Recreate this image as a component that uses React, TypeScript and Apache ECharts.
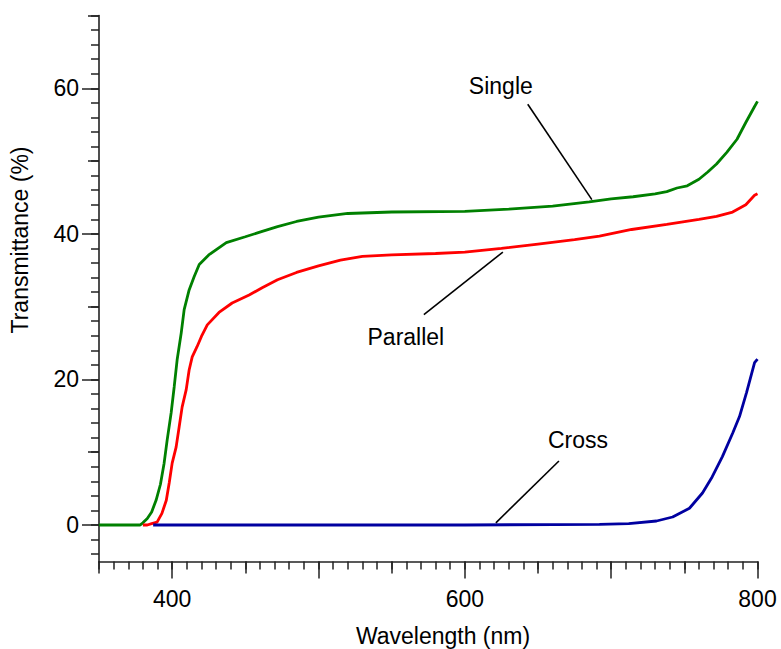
import React, { useEffect, useRef } from "react";
import * as echarts from "echarts";

// Wavelength (nm) / Transmittance (%) for each curve
const singleX = [350, 370, 378, 380, 383, 386, 389, 392, 394.5, 396.6, 399.3, 401.4, 403.4, 406.2, 408.2, 411.6, 415, 418.5, 425, 437, 450, 461, 472, 485, 500, 520, 550, 600, 630, 660, 685, 700, 715, 730, 738, 745, 752, 760, 766, 772, 779, 786, 792, 798, 800];
const singleY = [0, 0, 0, 0.3, 0.9, 1.8, 3.4, 5.6, 8.5, 11.7, 15.4, 19, 22.7, 26.4, 29.6, 32.3, 34.1, 35.8, 37.1, 38.8, 39.6, 40.3, 41, 41.7, 42.3, 42.8, 43.0, 43.1, 43.4, 43.8, 44.4, 44.8, 45.1, 45.5, 45.8, 46.3, 46.6, 47.5, 48.5, 49.6, 51.2, 53, 55.3, 57.5, 58.2];

const parallelX = [380, 383, 386, 389.7, 393, 396, 398, 400, 402.7, 404.8, 406.8, 409.6, 411.6, 413.7, 417, 420, 424, 432, 441, 452.6, 461.5, 472, 485, 500, 515, 530, 550, 580, 600, 625, 650, 675, 692, 714, 738, 760, 772, 783, 792, 798, 800];
const parallelY = [0, 0, 0.2, 0.4, 1.6, 3.4, 5.8, 8.5, 10.7, 13.5, 16.2, 18.6, 21.3, 23.1, 24.5, 25.9, 27.5, 29.2, 30.5, 31.6, 32.6, 33.7, 34.7, 35.6, 36.4, 36.9, 37.1, 37.3, 37.5, 38, 38.6, 39.2, 39.7, 40.6, 41.3, 42, 42.4, 43, 44, 45.3, 45.5];

const crossX = [387, 500, 600, 692, 712, 731, 742, 753.5, 762.4, 769, 776, 783, 787.7, 792.5, 798, 800];
const crossY = [0, 0, 0, 0.1, 0.2, 0.55, 1.1, 2.3, 4.4, 6.6, 9.4, 12.6, 14.9, 18.2, 22.3, 22.8];

// axis ticks
const xMinorTicks = Array.from({ length: 46 }, (_, i) => 350 + i * 10);
const xMediumTicks = [350, 450, 550, 650, 750];
const xMajorTicks = [400, 500, 600, 700, 800];
const xLabels = [400, 600, 800];

const yMinorTicks = Array.from({ length: 38 }, (_, i) => -4 + i * 2);
const yMediumTicks = [10, 30, 50, 70];
const yMajorTicks = [0, 20, 40, 60];
const yLabels = [0, 20, 40, 60];

// annotations (data coordinates)
const noteTexts = ["Single", "Parallel", "Cross"];
const notePos = [
  [624.6, 60.3],
  [559.7, 25.8],
  [677.3, 11.7],
];
const leaderLines = [
  [[643, 57.8], [686.8, 44.7]],
  [[572, 28.9], [626, 37.5]],
  [[664.3, 8.8], [621.2, 0.3]],
];

const FONT = "'Liberation Sans', Arial, Helvetica, sans-serif";
const FS = 23;
const AXIS_COLOR = "#222";

const zip = (xs: number[], ys: number[]) => xs.map((x, i) => [x, ys[i]]);

export default function App() {
  const ref = useRef<HTMLDivElement>(null);
  useEffect(() => {
    document.body.style.margin = "0";
    if (!ref.current) return;
    const chart = echarts.init(ref.current, null, { renderer: "svg" });

    const baseAxis = (min: number, max: number) => ({
      type: "value" as const,
      min,
      max,
      splitLine: { show: false },
      axisLine: { show: false },
      axisLabel: { show: false },
      axisTick: { show: false },
    });

    const mkX = (ticks: number[], len: number, withLine: boolean, labels?: number[]) => ({
      ...baseAxis(350, 800),
      position: "bottom",
      offset: 0,
      axisLine: { show: withLine, onZero: false, lineStyle: { color: AXIS_COLOR, width: 1.6 } },
      axisTick: { show: true, inside: false, length: len, customValues: ticks, lineStyle: { color: AXIS_COLOR, width: 1.5 } },
      axisLabel: labels
        ? { show: true, customValues: labels, margin: 26, color: "#000", fontSize: FS, fontFamily: FONT }
        : { show: false },
    });
    const mkY = (ticks: number[], len: number, withLine: boolean, labels?: number[]) => ({
      ...baseAxis(-5, 70),
      position: "left",
      offset: 0,
      axisLine: { show: withLine, onZero: false, lineStyle: { color: AXIS_COLOR, width: 1.6 } },
      axisTick: { show: true, inside: false, length: len, customValues: ticks, lineStyle: { color: AXIS_COLOR, width: 1.5 } },
      axisLabel: labels
        ? { show: true, customValues: labels, margin: 20, color: "#000", fontSize: FS, fontFamily: FONT }
        : { show: false },
    });

    chart.setOption({
      animation: false,
      backgroundColor: "#fff",
      grid: { left: 99, right: 23.5, top: 15.5, bottom: 87.6, containLabel: false },
      xAxis: [
        mkX(xMinorTicks, 8, true, xLabels),
        mkX(xMediumTicks, 12, false),
        mkX(xMajorTicks, 17, false),
      ],
      yAxis: [
        mkY(yMinorTicks, 8, true, yLabels),
        mkY(yMediumTicks, 11, false),
        mkY(yMajorTicks, 17, false),
      ],
      series: [
        {
          name: "Single",
          type: "line",
          data: zip(singleX, singleY),
          showSymbol: false,
          lineStyle: { color: "#008000", width: 2.8 },
          z: 2,
        },
        {
          name: "Parallel",
          type: "line",
          data: zip(parallelX, parallelY),
          showSymbol: false,
          lineStyle: { color: "#ff0000", width: 2.8 },
          z: 3,
        },
        {
          name: "Cross",
          type: "line",
          data: zip(crossX, crossY),
          showSymbol: false,
          lineStyle: { color: "#0000a0", width: 2.8 },
          z: 4,
        },
        {
          name: "notes",
          type: "scatter",
          silent: true,
          symbolSize: 0,
          itemStyle: { opacity: 1 },
          data: notePos.map((p, i) => ({ value: p, name: noteTexts[i] })),
          label: {
            show: true,
            position: "inside",
            formatter: (p: any) => p.name,
            color: "#000",
            opacity: 1,
            fontSize: FS,
            fontFamily: FONT,
          },
          markLine: {
            silent: true,
            symbol: ["none", "none"],
            label: { show: false },
            lineStyle: { color: "#000", width: 1.6, type: "solid", opacity: 1 },
            data: leaderLines.map((l) => [{ coord: l[0] }, { coord: l[1] }]),
          },
          z: 5,
        },
      ],
      graphic: [
        {
          type: "text",
          x: 443,
          y: 636,
          style: {
            text: "Wavelength (nm)",
            fontSize: FS,
            fontFamily: FONT,
            fill: "#000",
            align: "center",
            verticalAlign: "middle",
          },
        },
        {
          type: "text",
          x: 20,
          y: 240,
          rotation: Math.PI / 2,
          style: {
            text: "Transmittance (%)",
            fontSize: FS,
            fontFamily: FONT,
            fill: "#000",
            align: "center",
            verticalAlign: "middle",
          },
        },
      ],
    });
    return () => chart.dispose();
  }, []);
  return <div ref={ref} style={{ width: 781, height: 649 }} />;
}
